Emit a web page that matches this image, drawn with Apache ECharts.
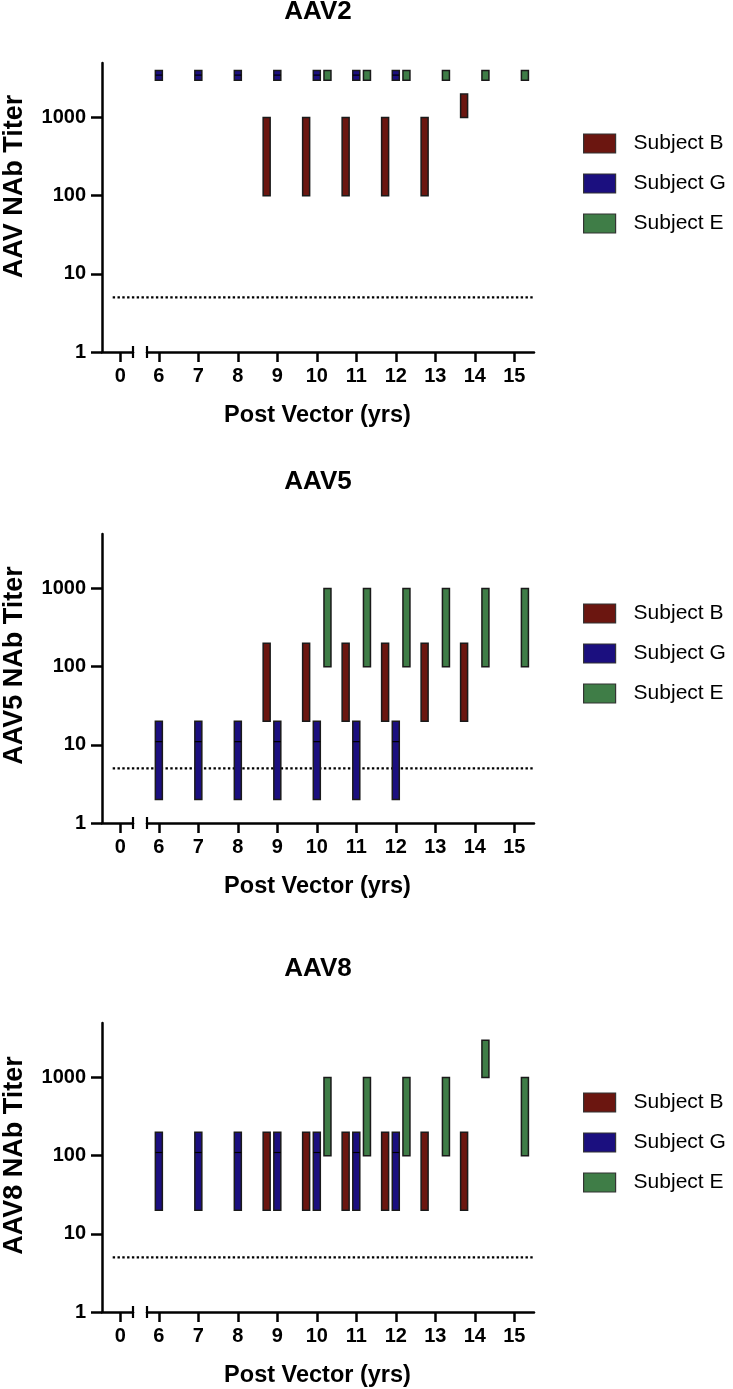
<!DOCTYPE html>
<html><head><meta charset="utf-8">
<script src="https://cdn.jsdelivr.net/npm/echarts@6/dist/echarts.min.js"></script>
<style>html,body{margin:0;padding:0;background:#fff}#c{width:733px;height:1389px}</style>
</head><body><div id="c"></div>
<script>
// ---------- data ----------
const panelTitles = ['AAV2', 'AAV5', 'AAV8'];
const yAxisNames = ['AAV NAb Titer', 'AAV5 NAb Titer', 'AAV8 NAb Titer'];
const xAxisName = 'Post Vector (yrs)';
const subjects = ['Subject B', 'Subject G', 'Subject E'];
const yTickValues = [1, 10, 100, 1000];
const xTicksLeft = [0];
const xTicksRight = [6, 7, 8, 9, 10, 11, 12, 13, 14, 15];
const lodValue = 5;

// each entry: [years post vector, low titer, high titer, (median)]
const aav2SubjectB = [[8.73, 100, 1000], [9.73, 100, 1000], [10.73, 100, 1000], [11.73, 100, 1000], [12.73, 100, 1000], [13.73, 1000, 2000]];
const aav2SubjectG = [[6, 3000, 4000, 3500], [7, 3000, 4000, 3500], [8, 3000, 4000, 3500], [9, 3000, 4000, 3500], [10, 3000, 4000, 3500], [11, 3000, 4000, 3500], [12, 3000, 4000, 3500]];
const aav2SubjectE = [[10.27, 3000, 4000], [11.27, 3000, 4000], [12.27, 3000, 4000], [13.27, 3000, 4000], [14.27, 3000, 4000], [15.27, 3000, 4000]];

const aav5SubjectB = [[8.73, 20, 200], [9.73, 20, 200], [10.73, 20, 200], [11.73, 20, 200], [12.73, 20, 200], [13.73, 20, 200]];
const aav5SubjectG = [[6, 2, 20, 11], [7, 2, 20, 11], [8, 2, 20, 11], [9, 2, 20, 11], [10, 2, 20, 11], [11, 2, 20, 11], [12, 2, 20, 11]];
const aav5SubjectE = [[10.27, 100, 1000], [11.27, 100, 1000], [12.27, 100, 1000], [13.27, 100, 1000], [14.27, 100, 1000], [15.27, 100, 1000]];

const aav8SubjectB = [[8.73, 20, 200], [9.73, 20, 200], [10.73, 20, 200], [11.73, 20, 200], [12.73, 20, 200], [13.73, 20, 200]];
const aav8SubjectG = [[6, 20, 200, 110], [7, 20, 200, 110], [8, 20, 200, 110], [9, 20, 200, 110], [10, 20, 200, 110], [11, 20, 200, 110], [12, 20, 200, 110]];
const aav8SubjectE = [[10.27, 100, 1000], [11.27, 100, 1000], [12.27, 100, 1000], [13.27, 100, 1000], [14.27, 1000, 3000], [15.27, 100, 1000]];

const panelData = [
  [aav2SubjectB, aav2SubjectG, aav2SubjectE],
  [aav5SubjectB, aav5SubjectG, aav5SubjectE],
  [aav8SubjectB, aav8SubjectG, aav8SubjectE]
];

// ---------- style / layout ----------
const colors = ['#6b1610', '#1b0f7f', '#3f7d47'];
const FONT = '"Liberation Sans", Arial, Helvetica, sans-serif';
const panelTops = [63, 534, 1023];
const plotH = 289;
const legendTops = [133, 603, 1092];
const titleYs = [12, 482, 969];
const yNameShift = [21, 13, 12];
const yMin = 1, yMax = 5000;
const leftMin = -0.48, leftMax = 0.33;
const rightMin = 5.7, rightMax = 15.5;
const AX = { color: '#000', width: 2.5 };

function renderRange(params, api) {
  const x = api.value(0), lo = api.value(1), hi = api.value(2), mid = api.value(3);
  const pTop = api.coord([x, hi]);
  const pBot = api.coord([x, lo]);
  const w = 7;
  const children = [{
    type: 'rect',
    shape: { x: pTop[0] - w / 2, y: pTop[1], width: w, height: pBot[1] - pTop[1] },
    style: { fill: api.visual('color'), stroke: '#1a1a1a', lineWidth: 1.5 }
  }];
  if (mid != null && !isNaN(mid)) {
    const pm = api.coord([x, mid]);
    children.push({
      type: 'line',
      shape: { x1: pTop[0] - w / 2, y1: pm[1], x2: pTop[0] + w / 2, y2: pm[1] },
      style: { stroke: '#000', lineWidth: 1.2 }
    });
  }
  return { type: 'group', children };
}

function renderCap(params, api) {
  const p = api.coord([api.value(0), api.value(1)]);
  return { type: 'line', shape: { x1: p[0], y1: p[1] - 6, x2: p[0], y2: p[1] + 6 }, style: { stroke: '#000', lineWidth: 2.2 } };
}

const grids = [], xAxes = [], yAxes = [], series = [], legends = [], graphics = [];

panelTitles.forEach((title, i) => {
  const top = panelTops[i];
  const gA = grids.length, gB = gA + 1, gC = gA + 2;
  grids.push({ left: 101, top, width: 32, height: plotH });
  grids.push({ left: 147, top, width: 387, height: plotH });
  grids.push({ left: 101, top, width: 433, height: plotH });

  const tickLabel = { fontSize: 20, fontWeight: 'bold', fontFamily: FONT, color: '#000' };

  xAxes.push({
    gridIndex: gA, type: 'value', min: leftMin, max: leftMax,
    axisLine: { onZero: false, lineStyle: AX },
    axisTick: { length: 10, lineStyle: AX, customValues: xTicksLeft },
    axisLabel: Object.assign({ margin: 14, customValues: xTicksLeft }, tickLabel),
    splitLine: { show: false }
  });
  xAxes.push({
    gridIndex: gB, type: 'value', min: rightMin, max: rightMax,
    axisLine: { onZero: false, lineStyle: AX },
    axisTick: { length: 10, lineStyle: AX, customValues: xTicksRight },
    axisLabel: Object.assign({ margin: 14, customValues: xTicksRight }, tickLabel),
    splitLine: { show: false }
  });
  xAxes.push({
    gridIndex: gC, type: 'value', min: 0, max: 1,
    axisLine: { show: false }, axisTick: { show: false }, axisLabel: { show: false }, splitLine: { show: false },
    name: xAxisName, nameLocation: 'middle', nameGap: 52,
    nameTextStyle: { fontSize: 23.5, fontWeight: 'bold', fontFamily: FONT, color: '#000' }
  });

  yAxes.push({
    gridIndex: gA, type: 'log', logBase: 10, min: yMin, max: yMax,
    axisLine: { show: true, onZero: false, lineStyle: AX },
    axisTick: { show: true, length: 11, lineStyle: AX, customValues: yTickValues },
    axisLabel: Object.assign({ margin: 16, customValues: yTickValues, formatter: v => String(Math.round(v)) }, tickLabel),
    splitLine: { show: false }, minorTick: { show: false },
    name: yAxisNames[i], nameLocation: 'middle', nameGap: 74, nameRotate: 90,
    nameTextStyle: { fontSize: 27, fontWeight: 'bold', fontFamily: FONT, color: '#000', padding: [0, 0, 0, 2 * yNameShift[i]] }
  });
  yAxes.push({ gridIndex: gB, type: 'log', logBase: 10, min: yMin, max: yMax, show: false });
  yAxes.push({ gridIndex: gC, type: 'log', logBase: 10, min: yMin, max: yMax, show: false });

  series.push({
    type: 'line', xAxisIndex: gC, yAxisIndex: gC, silent: true, symbol: 'none',
    data: [[0.027, lodValue], [1, lodValue]],
    lineStyle: { color: '#000', width: 2.4, type: [2.4, 2.4] }, z: 1
  });

  series.push({ type: 'custom', xAxisIndex: gA, yAxisIndex: gA, silent: true, renderItem: renderCap, data: [[leftMax, yMin]], z: 5 });
  series.push({ type: 'custom', xAxisIndex: gB, yAxisIndex: gB, silent: true, renderItem: renderCap, data: [[rightMin, yMin]], z: 5 });

  subjects.forEach((name, s) => {
    series.push({
      type: 'custom', name, xAxisIndex: gB, yAxisIndex: gB,
      itemStyle: { color: colors[s], borderColor: '#222', borderWidth: 1 },
      encode: { x: 0, y: [1, 2] },
      renderItem: renderRange,
      data: panelData[i][s],
      z: 3
    });
  });

  legends.push({
    data: subjects, orient: 'vertical', left: 583, top: legendTops[i],
    itemWidth: 32, itemHeight: 19, itemGap: 19, icon: 'rect', padding: 0,
    itemStyle: { borderColor: '#333', borderWidth: 1.2 },
    textStyle: { fontSize: 21, fontFamily: FONT, color: '#000', padding: [0, 0, 0, 13] },
    selectedMode: false
  });

  graphics.push({
    type: 'text', x: 318, y: titleYs[i],
    style: { text: title, font: 'bold 26px ' + FONT, fill: '#000', align: 'center', verticalAlign: 'middle' }
  });
});

const chart = echarts.init(document.getElementById('c'), null, { renderer: 'canvas' });
chart.setOption({
  animation: false,
  backgroundColor: '#fff',
  grid: grids, xAxis: xAxes, yAxis: yAxes, series, legend: legends, graphic: graphics
});
</script></body></html>
